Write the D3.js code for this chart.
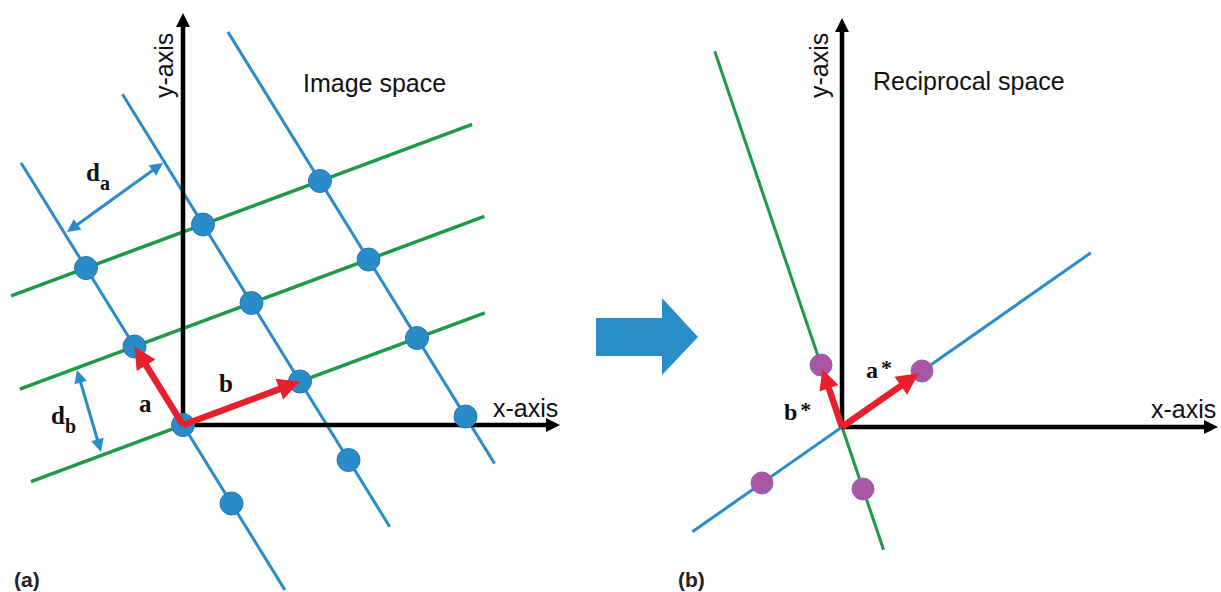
<!DOCTYPE html>
<html lang="en">
<head>
<meta charset="UTF-8">
<title>Image space and reciprocal space</title>
<style>
    body { margin: 0; background: #fff; }
    svg { display: block; }
    .axis-label { font-family: "Liberation Sans", Arial, sans-serif; font-size: 25px; fill: #111; }
    .vec-label { font-family: "Liberation Serif", "Times New Roman", serif; font-weight: bold; fill: #111; }
    .panel-tag { font-family: "Liberation Sans", Arial, sans-serif; font-weight: bold; font-size: 21px; fill: #222; }
</style>
</head>
<body>
<svg width="1221" height="592"></svg>
<script src="https://d3js.org/d3.v7.min.js"></script>
<script>
    // panel (a): direct lattice, basis vectors in axis units
    var basisA = [-0.485, 0.785];
    var basisB = [1.17, 0.435];
    var latticePoints = [[0, 0], [1, 0], [2, 0], [-1, 0], [0, 1], [1, 1], [2, 1], [-1, 1], [0, 2], [1, 2], [2, 2], [-1, 2]];
    // blue rows run along a (fixed b index), green rows along b (fixed a index): [index, from, to]
    var blueRows = [[0, -2.1, 3.34], [1, -1.85, 3.66], [2, -1.6, 3.9]];
    var greenRows = [[0, -1.3, 2.58], [1, -0.98, 2.99], [2, -0.64, 3.3]];
    var axisLenA = [3.77, 4.12];
    var daArrow = [[-1.16, 1.93], [-0.20, 2.62]];
    var dbArrow = [[-1.06, 0.55], [-0.82, -0.27]];

    // panel (b): reciprocal lattice
    var basisAStar = [0.80, 0.56];
    var basisBStar = [-0.21, 0.62];
    var recipPoints = [[1, 0], [-1, 0], [0, 1], [0, -1]];
    var recipBlueRow = [-1.87, 3.11];   // along a*
    var recipGreenRow = [-1.98, 6.06];  // along b*
    var axisLenB = [3.76, 4.09];

    var BLUE = "#2a8bc9", GREEN = "#1d9a47", RED = "#e8202e", PURPLE = "#a857a6";

    var svg = d3.select("svg");

    function lat(i, j, A, B) {
        return [i * A[0] + j * B[0], i * A[1] + j * B[1]];
    }

    // straight arrow with filled triangle head(s)
    function arrow(g, p1, p2, o) {
        var dx = p2[0] - p1[0], dy = p2[1] - p1[1];
        var len = Math.sqrt(dx * dx + dy * dy), ux = dx / len, uy = dy / len;
        var hl = o.headLen, hw = o.headW;
        var s = o.both ? [p1[0] + ux * hl * 0.8, p1[1] + uy * hl * 0.8] : p1;
        var e = [p2[0] - ux * hl * 0.8, p2[1] - uy * hl * 0.8];
        g.append("line")
            .attr("x1", s[0]).attr("y1", s[1])
            .attr("x2", e[0]).attr("y2", e[1])
            .style("stroke", o.color)
            .style("stroke-width", o.width);
        function head(tip, ux, uy) {
            var bx = tip[0] - ux * hl, by = tip[1] - uy * hl;
            g.append("polygon")
                .attr("points", [
                    [tip[0], tip[1]],
                    [bx - uy * hw, by + ux * hw],
                    [bx + uy * hw, by - ux * hw]
                ].map(function (p) { return p.join(","); }).join(" "))
                .style("fill", o.color);
        }
        head(p2, ux, uy);
        if (o.both) head(p1, -ux, -uy);
    }

    function drawPanel(cfg) {
        var x = d3.scaleLinear().domain([0, 1]).range([cfg.ox, cfg.ox + 100]);
        var y = d3.scaleLinear().domain([0, 1]).range([cfg.oy, cfg.oy - 100]);
        var px = function (p) { return [x(p[0]), y(p[1])]; };
        var g = svg.append("g");

        cfg.lines.forEach(function (l) {
            var a = px(l.from), b = px(l.to);
            g.append("line")
                .attr("x1", a[0]).attr("y1", a[1])
                .attr("x2", b[0]).attr("y2", b[1])
                .style("stroke", l.color)
                .style("stroke-width", l.width);
        });

        // axes
        arrow(g, px([0, 0]), px([cfg.axisLen[0], 0]), { color: "#000", width: 4.5, headLen: 14, headW: 7 });
        arrow(g, px([0, 0]), px([0, cfg.axisLen[1]]), { color: "#000", width: 4.5, headLen: 14, headW: 7 });

        g.selectAll(".pt")
            .data(cfg.points)
            .enter()
            .append("circle")
            .attr("class", "pt")
            .attr("cx", function (d) { return px(d)[0]; })
            .attr("cy", function (d) { return px(d)[1]; })
            .attr("r", cfg.r)
            .style("fill", cfg.pointFill)
            .style("stroke", cfg.pointStroke)
            .style("stroke-width", 1);

        (cfg.extras || []).forEach(function (e) {
            arrow(g, px(e.from), px(e.to), e.style);
        });
        return g;
    }

    // ---------- panel (a) ----------
    var linesA = [];
    blueRows.forEach(function (r) {
        linesA.push({ from: lat(r[1], r[0], basisA, basisB), to: lat(r[2], r[0], basisA, basisB), color: BLUE, width: 3 });
    });
    greenRows.forEach(function (r) {
        linesA.push({ from: lat(r[0], r[1], basisA, basisB), to: lat(r[0], r[2], basisA, basisB), color: GREEN, width: 3.5 });
    });
    var redStyle = { color: RED, width: 6.5, headLen: 22, headW: 11 };
    var dStyle = { color: BLUE, width: 3, headLen: 13, headW: 6.5, both: true };

    drawPanel({
        ox: 183, oy: 425, axisLen: axisLenA, lines: linesA,
        points: latticePoints.map(function (p) { return lat(p[0], p[1], basisA, basisB); }),
        r: 11.5, pointFill: BLUE, pointStroke: "#2479b3",
        extras: [
            { from: [0, 0], to: basisA, style: redStyle },
            { from: [0, 0], to: basisB, style: redStyle },
            { from: daArrow[0], to: daArrow[1], style: dStyle },
            { from: dbArrow[0], to: dbArrow[1], style: dStyle }
        ]
    });

    // ---------- panel (b) ----------
    var linesB = [
        { from: lat(recipBlueRow[0], 0, basisAStar, basisBStar), to: lat(recipBlueRow[1], 0, basisAStar, basisBStar), color: BLUE, width: 3 },
        { from: lat(0, recipGreenRow[0], basisAStar, basisBStar), to: lat(0, recipGreenRow[1], basisAStar, basisBStar), color: GREEN, width: 3 }
    ];
    drawPanel({
        ox: 842, oy: 427, axisLen: axisLenB, lines: linesB,
        points: recipPoints.map(function (p) { return lat(p[0], p[1], basisAStar, basisBStar); }),
        r: 11, pointFill: PURPLE, pointStroke: "#8a68b8",
        extras: [
            { from: [0, 0], to: lat(0.96, 0, basisAStar, basisBStar), style: redStyle },
            { from: [0, 0], to: lat(0, 0.93, basisAStar, basisBStar), style: { color: RED, width: 6.5, headLen: 20, headW: 10 } }
        ]
    });

    // big transition arrow
    svg.append("polygon")
        .attr("points", "596,318 662,318 662,298 698,337 662,375 662,356 596,356")
        .style("fill", "#2a8dc8");

    // ---------- text ----------
    svg.append("text").attr("class", "axis-label").attr("x", 303).attr("y", 92).text("Image space");
    svg.append("text").attr("class", "axis-label").attr("x", 873).attr("y", 90).text("Reciprocal space");
    svg.append("text").attr("class", "axis-label").attr("x", 493).attr("y", 417).text("x-axis");
    svg.append("text").attr("class", "axis-label").attr("x", 1151).attr("y", 418).text("x-axis");
    svg.append("text").attr("class", "axis-label")
        .attr("transform", "translate(173,98) rotate(-90)").text("y-axis");
    svg.append("text").attr("class", "axis-label")
        .attr("transform", "translate(828,98) rotate(-90)").text("y-axis");

    function vecLabel(xp, yp, main, sub, size, star) {
        var t = svg.append("text").attr("class", "vec-label")
            .attr("x", xp).attr("y", yp).style("font-size", size + "px").text(main);
        if (sub) {
            t.append("tspan").attr("dy", 9).style("font-size", (size - 5) + "px").text(sub);
        }
        if (star) {
            t.append("tspan").attr("dx", 3).attr("dy", -3).style("font-size", (size - 2) + "px").text("*");
        }
    }
    vecLabel(86, 181, "d", "a", 25);
    vecLabel(51, 424, "d", "b", 25);
    vecLabel(139, 412, "a", null, 25);
    vecLabel(219, 392, "b", null, 25);
    vecLabel(866, 378, "a", null, 24, true);
    vecLabel(784, 420, "b", null, 24, true);

    svg.append("text").attr("class", "panel-tag").attr("x", 14).attr("y", 587).text("(a)");
    svg.append("text").attr("class", "panel-tag").attr("x", 678).attr("y", 587).text("(b)");
</script>
</body>
</html>
